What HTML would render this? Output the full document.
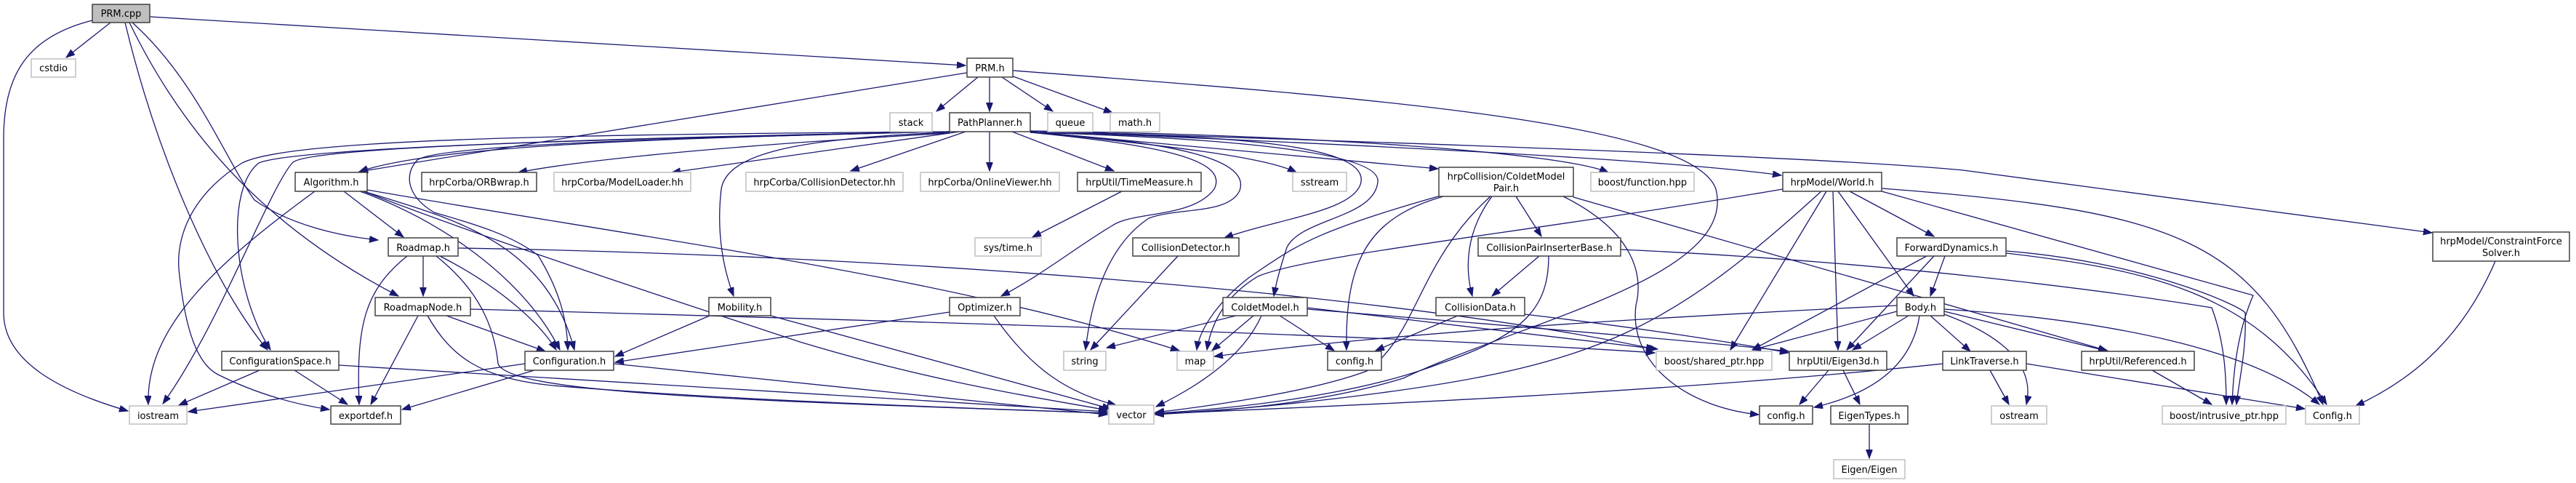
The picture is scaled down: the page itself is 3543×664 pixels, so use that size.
<!DOCTYPE html>
<html><head><meta charset="utf-8"><style>
html,body{margin:0;padding:0;background:#fff}
svg{display:block}
text{font-family:"DejaVu Sans","Liberation Sans",sans-serif;font-size:13px;fill:#000;text-anchor:middle}
.e{fill:none;stroke:#191970;stroke-width:1.3;marker-end:url(#a)}
.b{fill:#fff;stroke:#404040;stroke-width:1.5}
.g{fill:#fff;stroke:#bfbfbf;stroke-width:1.5}
</style></head><body>
<svg width="3543" height="664" viewBox="0 0 3543 664" xmlns="http://www.w3.org/2000/svg">
<defs><marker id="a" markerUnits="userSpaceOnUse" markerWidth="13" markerHeight="10" refX="12" refY="4.5" orient="auto"><path d="M0,0 L12,4.5 L0,9 z" fill="#191970" stroke="#191970"/></marker></defs>
<g>
<path class="e" d="M152,31 L91,79"/>
<path class="e" d="M127,28 C40,50 5,100 5,190 L5,430 C5,500 90,540 176,565"/>
<path class="e" d="M206,23 L1328,90"/>
<path class="e" d="M172,31 C220,230 300,400 368,481"/>
<path class="e" d="M178,31 C260,200 380,320 548,407"/>
<path class="e" d="M182,31 C270,110 310,220 350,275 C400,310 470,325 520,330"/>
<path class="e" d="M1345,106 L1288,153"/>
<path class="e" d="M1361,106 L1361,153"/>
<path class="e" d="M1378,106 L1448,153"/>
<path class="e" d="M1388,103 L1530,155"/>
<path class="e" d="M1330,100 L494,236"/>
<path class="e" d="M1393,97 C1900,135 2330,170 2360,260 C2390,380 2100,440 1930,520 C1800,560 1650,566 1589,570"/>
<path class="e" d="M1306,183 C1000,200 800,220 713,237"/>
<path class="e" d="M1320,181 L924,237"/>
<path class="e" d="M1328,181 L1170,235"/>
<path class="e" d="M1361,181 L1361,235"/>
<path class="e" d="M1392,181 L1532,235"/>
<path class="e" d="M1417,181 C1600,200 1740,215 1783,237"/>
<path class="e" d="M1417,181 L1978,232"/>
<path class="e" d="M1417,180 C1800,185 2150,210 2212,237"/>
<path class="e" d="M1417,180 C1900,200 2300,220 2450,241"/>
<path class="e" d="M1417,180 C1900,195 2500,215 2700,234 L3345,320"/>
<path class="e" d="M1417,182 C1700,185 1880,200 1872,250 C1865,290 1760,300 1684,327"/>
<path class="e" d="M1417,182 C1700,190 1900,210 1895,250 C1890,300 1790,300 1770,340 C1760,370 1755,390 1752,407"/>
<path class="e" d="M1417,182 C1600,200 1690,220 1670,260 C1640,300 1560,290 1530,310 C1480,340 1430,380 1377,407"/>
<path class="e" d="M1417,182 C1620,195 1720,220 1705,262 C1690,295 1620,285 1580,300 C1520,340 1500,420 1493,481"/>
<path class="e" d="M1306,182 C1100,190 1000,210 992,260 C985,320 995,370 1009,407"/>
<path class="e" d="M1306,181 C900,190 600,200 574,220 C555,240 560,270 597,292 C640,305 700,320 740,351 C770,400 780,440 781,481"/>
<path class="e" d="M1306,181 C800,185 400,190 333,224 C260,270 240,330 247,380 C255,450 270,500 300,515 C350,540 400,555 453,563"/>
<path class="e" d="M1306,181 C900,190 420,200 402,224 C370,260 300,450 224,555"/>
<path class="e" d="M1306,181 C800,190 400,205 356,224 C310,260 320,400 372,481"/>
<path class="e" d="M1306,181 C900,190 600,200 494,236"/>
<path class="e" d="M433,263 C300,360 200,450 204,556"/>
<path class="e" d="M473,263 L555,326"/>
<path class="e" d="M495,263 C600,300 720,380 770,481"/>
<path class="e" d="M500,263 C620,300 750,330 790,481"/>
<path class="e" d="M505,261 C900,330 1300,380 1622,482"/>
<path class="e" d="M500,263 C700,340 950,420 1100,470 C1300,530 1450,550 1523,564"/>
<path class="e" d="M582,352 L582,407"/>
<path class="e" d="M560,352 C500,400 490,450 494,556"/>
<path class="e" d="M605,352 C680,390 740,440 765,481"/>
<path class="e" d="M600,352 C660,400 680,450 685,500 C700,540 1000,550 1523,568"/>
<path class="e" d="M630,341 C1200,350 1900,400 2276,480"/>
<path class="e" d="M614,434 L750,483"/>
<path class="e" d="M575,434 L510,556"/>
<path class="e" d="M588,434 C620,490 660,520 760,530 C1000,550 1300,560 1523,568"/>
<path class="e" d="M647,425 C1200,440 1900,460 2276,485"/>
<path class="e" d="M357,509 L246,557"/>
<path class="e" d="M405,509 L478,556"/>
<path class="e" d="M466,502 C900,530 1300,555 1523,566"/>
<path class="e" d="M722,500 L259,566"/>
<path class="e" d="M735,509 L553,563"/>
<path class="e" d="M844,500 L1523,570"/>
<path class="e" d="M976,434 L846,490"/>
<path class="e" d="M1060,434 L1528,562"/>
<path class="e" d="M1306,429 L846,498"/>
<path class="e" d="M1367,434 C1420,510 1470,540 1535,557"/>
<path class="e" d="M1620,352 L1500,481"/>
<path class="e" d="M1543,263 L1420,326"/>
<path class="e" d="M1700,434 L1522,478"/>
<path class="e" d="M1724,434 L1667,482"/>
<path class="e" d="M1735,434 C1710,490 1650,530 1590,559"/>
<path class="e" d="M1760,434 L1835,482"/>
<path class="e" d="M1798,423 L2280,480"/>
<path class="e" d="M1798,425 C2100,450 2350,470 2460,483"/>
<path class="e" d="M2085,270 L2120,325"/>
<path class="e" d="M2052,270 C2015,320 2015,370 2025,407"/>
<path class="e" d="M1985,270 C1880,300 1850,360 1852,481"/>
<path class="e" d="M2050,270 C1950,360 1950,460 1880,510 C1800,540 1650,560 1589,567"/>
<path class="e" d="M1985,268 C1800,320 1780,340 1720,380 C1680,410 1650,450 1646,481"/>
<path class="e" d="M2150,270 C2250,320 2260,380 2250,420 C2240,500 2320,560 2419,570"/>
<path class="e" d="M2164,271 L2898,482"/>
<path class="e" d="M2117,352 L2052,407"/>
<path class="e" d="M2130,352 C2130,420 2100,460 1980,500 C1850,550 1650,565 1589,568"/>
<path class="e" d="M2229,343 C2600,360 2900,400 3042,423 C3060,470 3062,520 3062,556"/>
<path class="e" d="M2005,434 L1892,482"/>
<path class="e" d="M2097,432 C2250,450 2380,470 2460,485"/>
<path class="e" d="M2544,263 L2660,325"/>
<path class="e" d="M2528,263 L2632,407"/>
<path class="e" d="M2521,263 L2528,481"/>
<path class="e" d="M2512,263 L2380,481"/>
<path class="e" d="M2505,263 C2300,450 2200,500 1900,540 C1750,560 1650,566 1589,569"/>
<path class="e" d="M2452,260 C2100,320 1800,350 1730,380 C1680,410 1665,450 1660,481"/>
<path class="e" d="M2588,259 C3000,290 3100,330 3195,556"/>
<path class="e" d="M2588,263 L3099,406 C3080,450 3072,500 3070,556"/>
<path class="e" d="M2675,352 L2655,407"/>
<path class="e" d="M2660,352 L2540,481"/>
<path class="e" d="M2650,352 L2410,481"/>
<path class="e" d="M2759,345 C2950,360 3080,420 3088,430 C3090,480 3080,520 3076,556"/>
<path class="e" d="M2759,348 C2950,370 3100,400 3200,556"/>
<path class="e" d="M2609,420 C2200,440 1900,460 1670,490"/>
<path class="e" d="M2609,428 L2410,481"/>
<path class="e" d="M2625,434 L2548,481"/>
<path class="e" d="M2640,434 C2630,500 2580,540 2495,560"/>
<path class="e" d="M2655,434 L2710,483"/>
<path class="e" d="M2674,428 L2900,483"/>
<path class="e" d="M2674,432 C2750,460 2800,500 2787,556"/>
<path class="e" d="M2674,425 C2900,440 3100,480 3190,556"/>
<path class="e" d="M2515,509 L2475,556"/>
<path class="e" d="M2535,509 L2558,556"/>
<path class="e" d="M2571,583 L2571,630"/>
<path class="e" d="M2737,509 L2763,556"/>
<path class="e" d="M2787,500 L3170,562"/>
<path class="e" d="M2672,500 C2300,540 1800,560 1589,569"/>
<path class="e" d="M2960,509 L3042,556"/>
<path class="e" d="M3432,359 C3380,480 3300,530 3240,558"/>
</g>
<g>
<rect x="127" y="6" width="79" height="25" fill="#bfbfbf" stroke="#404040" stroke-width="1.5"/><text x="166.5" y="23">PRM.cpp</text>
<rect class="g" x="43" y="81" width="61" height="25"/><text x="73.5" y="98">cstdio</text>
<rect class="b" x="1330" y="80" width="63" height="26"/><text x="1361.5" y="98">PRM.h</text>
<rect class="g" x="1224" y="155" width="58" height="26"/><text x="1253" y="173">stack</text>
<rect class="b" x="1306" y="155" width="111" height="26"/><text x="1361.5" y="173">PathPlanner.h</text>
<rect class="g" x="1441" y="155" width="62" height="26"/><text x="1472" y="173">queue</text>
<rect class="g" x="1527" y="155" width="68" height="26"/><text x="1561" y="173">math.h</text>
<rect class="b" x="406" y="237" width="99" height="26"/><text x="455.5" y="255">Algorithm.h</text>
<rect class="b" x="580" y="237" width="158" height="26"/><text x="659" y="255">hrpCorba/ORBwrap.h</text>
<rect class="g" x="762" y="237" width="188" height="26"/><text x="856" y="255">hrpCorba/ModelLoader.hh</text>
<rect class="g" x="1026" y="237" width="216" height="26"/><text x="1134" y="255">hrpCorba/CollisionDetector.hh</text>
<rect class="g" x="1266" y="237" width="191" height="26"/><text x="1361.5" y="255">hrpCorba/OnlineViewer.hh</text>
<rect class="b" x="1482" y="237" width="170" height="26"/><text x="1567" y="255">hrpUtil/TimeMeasure.h</text>
<rect class="g" x="1778" y="237" width="74" height="26"/><text x="1815" y="255">sstream</text>
<rect class="b" x="1979" y="230" width="185" height="40"/><text x="2071.5" y="247">hrpCollision/ColdetModel</text><text x="2071.5" y="263">Pair.h</text>
<rect class="g" x="2188" y="237" width="142" height="26"/><text x="2259" y="255">boost/function.hpp</text>
<rect class="b" x="2452" y="237" width="136" height="26"/><text x="2520" y="255">hrpModel/World.h</text>
<rect class="b" x="3346" y="319" width="188" height="40"/><text x="3440" y="336">hrpModel/ConstraintForce</text><text x="3440" y="352">Solver.h</text>
<rect class="b" x="534" y="327" width="96" height="25"/><text x="582" y="345">Roadmap.h</text>
<rect class="g" x="1341" y="327" width="91" height="25"/><text x="1386.5" y="345">sys/time.h</text>
<rect class="b" x="1558" y="327" width="146" height="25"/><text x="1631" y="345">CollisionDetector.h</text>
<rect class="b" x="2033" y="327" width="196" height="25"/><text x="2131" y="345">CollisionPairInserterBase.h</text>
<rect class="b" x="2609" y="327" width="150" height="25"/><text x="2684" y="345">ForwardDynamics.h</text>
<rect class="b" x="516" y="409" width="131" height="25"/><text x="581.5" y="427">RoadmapNode.h</text>
<rect class="b" x="975" y="409" width="85" height="25"/><text x="1017.5" y="427">Mobility.h</text>
<rect class="b" x="1306" y="409" width="97" height="25"/><text x="1354.5" y="427">Optimizer.h</text>
<rect class="b" x="1682" y="409" width="116" height="25"/><text x="1740" y="427">ColdetModel.h</text>
<rect class="b" x="1975" y="409" width="122" height="25"/><text x="2036" y="427">CollisionData.h</text>
<rect class="b" x="2609" y="409" width="65" height="25"/><text x="2641.5" y="427">Body.h</text>
<rect class="b" x="305" y="483" width="161" height="26"/><text x="385.5" y="501">ConfigurationSpace.h</text>
<rect class="b" x="722" y="483" width="122" height="26"/><text x="783" y="501">Configuration.h</text>
<rect class="g" x="1463" y="483" width="58" height="26"/><text x="1492" y="501">string</text>
<rect class="g" x="1619" y="483" width="50" height="26"/><text x="1644" y="501">map</text>
<rect class="b" x="1826" y="483" width="74" height="26"/><text x="1863" y="501">config.h</text>
<rect class="g" x="2278" y="483" width="159" height="26"/><text x="2357.5" y="501">boost/shared_ptr.hpp</text>
<rect class="b" x="2461" y="483" width="134" height="26"/><text x="2528" y="501">hrpUtil/Eigen3d.h</text>
<rect class="b" x="2672" y="483" width="115" height="26"/><text x="2729.5" y="501">LinkTraverse.h</text>
<rect class="b" x="2863" y="483" width="155" height="26"/><text x="2940.5" y="501">hrpUtil/Referenced.h</text>
<rect class="g" x="178" y="558" width="79" height="25"/><text x="217.5" y="576">iostream</text>
<rect class="b" x="455" y="558" width="96" height="25"/><text x="503" y="576">exportdef.h</text>
<rect class="g" x="1525" y="557" width="62" height="26"/><text x="1556" y="575">vector</text>
<rect class="b" x="2420" y="558" width="73" height="25"/><text x="2456.5" y="576">config.h</text>
<rect class="b" x="2518" y="558" width="106" height="25"/><text x="2571" y="576">EigenTypes.h</text>
<rect class="g" x="2739" y="558" width="76" height="25"/><text x="2777" y="576">ostream</text>
<rect class="g" x="2974" y="558" width="170" height="25"/><text x="3059" y="576">boost/intrusive_ptr.hpp</text>
<rect class="g" x="3171" y="558" width="74" height="25"/><text x="3208" y="576">Config.h</text>
<rect class="g" x="2522" y="632" width="98" height="26"/><text x="2571" y="650">Eigen/Eigen</text>
</g>
</svg>
</body></html>
